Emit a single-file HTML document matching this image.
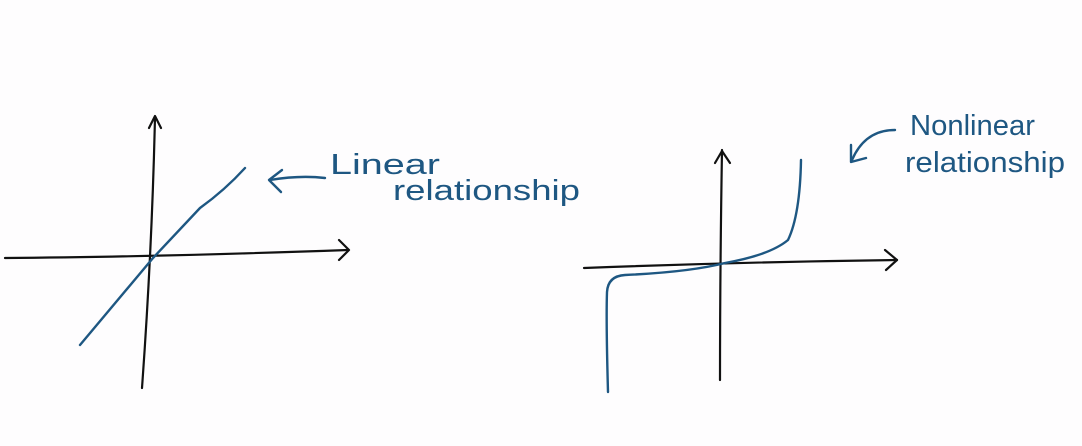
<!DOCTYPE html>
<html><head><meta charset="utf-8"><style>
html,body{margin:0;padding:0;background:#fefdfe;}
svg{display:block}
text{font-family:"Liberation Sans",sans-serif;fill:#1e5782;font-size:29px}
</style></head><body>
<svg width="1082" height="446" viewBox="0 0 1082 446">
<g fill="none" stroke="#111" stroke-width="2.2" stroke-linecap="round" stroke-linejoin="round">
<path d="M5 258 Q150 257 348 250"/>
<path d="M339 240 L349 250 L339 260"/>
<path d="M155 117 Q152 250 142 388"/>
<path d="M149 128 L155 116 L161 128"/>
<path d="M584 268 Q740 262 897 260"/>
<path d="M885 250 L897 260 L886 270"/>
<path d="M722 150 Q720 270 720 380"/>
<path d="M715 163 L722 151 L730 163"/>
</g>
<g fill="none" stroke="#1e5782" stroke-width="2.4" stroke-linecap="round" stroke-linejoin="round">
<path d="M80 345 L153 258 L200 208 Q225 190 245 168"/>
<path d="M325 178 Q300 175 270 180"/>
<path d="M282 170 L269 180 L281 192"/>
<path d="M608 392 Q606 320 607 292 Q608 276 625 275 Q690 272 725 263 Q770 255 788 240 Q800 215 801 160"/>
<path d="M895 130 Q865 130 852 160"/>
<path d="M851 145 L851 162 L866 158"/>
</g>
<text x="330" y="174" textLength="110" lengthAdjust="spacingAndGlyphs" font-size="31">Linear</text>
<text x="393" y="200" textLength="187" lengthAdjust="spacingAndGlyphs" font-size="31">relationship</text>
<text x="910" y="135" textLength="125" lengthAdjust="spacingAndGlyphs">Nonlinear</text>
<text x="905" y="172" textLength="160" lengthAdjust="spacingAndGlyphs">relationship</text>
</svg>
</body></html>
